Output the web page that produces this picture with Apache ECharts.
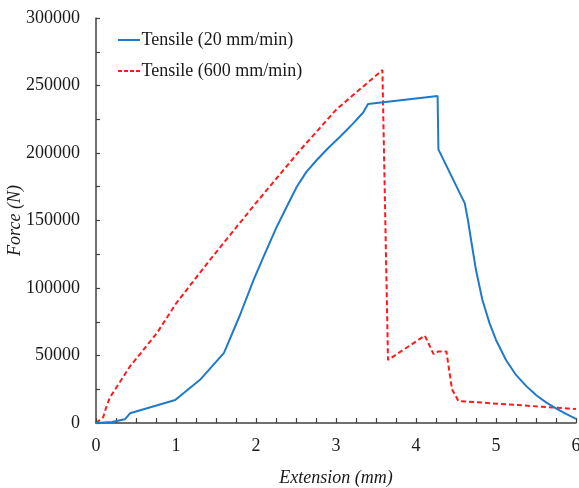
<!DOCTYPE html>
<html>
<head>
<meta charset="utf-8">
<script src="https://cdn.jsdelivr.net/npm/echarts@6/dist/echarts.min.js"></script>
<style>
  html, body { margin: 0; padding: 0; background: #fff; }
  #chart { width: 579px; height: 488px; }
</style>
</head>
<body>
<div id="chart"></div>
<script>
// Force–extension curves for two tensile loading rates
const seriesNames = ['Tensile (20 mm/min)', 'Tensile (600 mm/min)'];

// 20 mm/min: extension (mm) and force (N)
const slowExtension = [0, 0.2, 0.36, 0.425, 0.99, 1.3, 1.6, 1.8, 1.97, 2.1, 2.26, 2.4, 2.51, 2.63, 2.76, 2.9, 3.05, 3.2, 3.34, 3.40, 4.27, 4.28, 4.61, 4.65, 4.69, 4.75, 4.83, 4.92, 5.0, 5.125, 5.25, 5.375, 5.5, 5.625, 5.75, 5.875, 6.0];
const slowForce     = [0, 800, 2700, 7200, 17000, 32000, 52000, 80000, 106000, 124000, 145400, 162000, 175000, 186000, 194800, 203500, 212000, 221000, 230000, 236300, 242200, 202700, 162700, 150000, 135000, 113300, 91100, 73800, 61500, 46700, 35600, 27500, 20700, 15300, 10900, 6800, 3000];

// 600 mm/min: extension (mm) and force (N)
const fastExtension = [0, 0.09, 0.13, 0.175, 0.42, 0.76, 1.0, 1.42, 2.0, 2.55, 3.0, 3.58, 3.65, 4.11, 4.22, 4.28, 4.38, 4.45, 4.53, 6.0];
const fastForce     = [0, 4200, 12000, 19000, 41500, 66500, 88500, 120500, 163000, 202000, 232000, 261500, 46700, 64700, 51000, 53000, 53000, 25000, 16300, 10300];

const xTicks = { min: 0, max: 6, step: 1 };
const yTicks = { min: 0, max: 300000, step: 50000 };

const pairs = (xs, ys) => xs.map((x, i) => [x, ys[i]]);

const font = 'Liberation Serif';
const axisColor = '#404040';
const textColor = '#1a1a1a';
const blue = '#1f7acb';
const red = '#ff1a1a';

// legend keys: a solid stroke and a dashed stroke
const solidKey = 'path://M0,0h22v2h-22z';
const dashedKey = 'path://M0,0h4v2h-4zM6,0h4v2h-4zM12,0h4v2h-4zM18,0h4v2h-4z';

const chart = echarts.init(document.getElementById('chart'), null, { renderer: 'canvas' });
chart.setOption({
  animation: false,
  backgroundColor: '#fff',
  grid: { left: 96, right: 3, top: 18, bottom: 65, containLabel: false, outerBoundsMode: 'none' },
  legend: {
    orient: 'vertical',
    left: 113,
    top: 26,
    itemWidth: 23,
    itemHeight: 2,
    itemGap: 13,
    data: [
      { name: seriesNames[0], icon: solidKey, itemStyle: { color: blue } },
      { name: seriesNames[1], icon: dashedKey, itemStyle: { color: red } }
    ],
    textStyle: { fontFamily: font, fontSize: 18, color: textColor, padding: [0, 0, 0, -4] }
  },
  xAxis: {
    type: 'value',
    min: xTicks.min, max: xTicks.max, interval: xTicks.step,
    name: 'Extension (mm)',
    nameLocation: 'middle',
    nameGap: 46,
    nameMoveOverlap: false,
    nameTextStyle: { fontFamily: font, fontStyle: 'italic', fontSize: 18, color: textColor },
    axisLine: { show: true, lineStyle: { color: axisColor, width: 1.5 } },
    axisTick: { show: true, inside: true, length: 5, lineStyle: { color: axisColor, width: 1.2 } },
    minorTick: { show: true, splitNumber: 4, length: 5, lineStyle: { color: axisColor, width: 1.2 } },
    axisLabel: { fontFamily: font, fontSize: 18, color: textColor, margin: 14 },
    splitLine: { show: false }
  },
  yAxis: {
    type: 'value',
    min: yTicks.min, max: yTicks.max, interval: yTicks.step,
    name: 'Force (N)',
    nameLocation: 'middle',
    nameRotate: 90,
    nameGap: 72,
    nameMoveOverlap: false,
    nameTextStyle: { fontFamily: font, fontStyle: 'italic', fontSize: 18, color: textColor },
    axisLine: { show: true, lineStyle: { color: axisColor, width: 1.5 } },
    axisTick: { show: true, inside: true, length: 4, lineStyle: { color: axisColor, width: 1.2 } },
    minorTick: { show: true, splitNumber: 2, length: 4, lineStyle: { color: axisColor, width: 1.2 } },
    axisLabel: { fontFamily: font, fontSize: 18, color: textColor, margin: 16, formatter: v => String(v) },
    splitLine: { show: false }
  },
  series: [
    {
      name: seriesNames[0],
      type: 'line',
      data: pairs(slowExtension, slowForce),
      symbol: 'none',
      smooth: false,
      lineStyle: { color: blue, width: 2 },
      itemStyle: { color: blue },
      z: 3
    },
    {
      name: seriesNames[1],
      type: 'line',
      data: pairs(fastExtension, fastForce),
      symbol: 'none',
      smooth: false,
      lineStyle: { color: red, width: 2, type: [5, 3] },
      itemStyle: { color: red },
      z: 2
    }
  ]
});
</script>
</body>
</html>
